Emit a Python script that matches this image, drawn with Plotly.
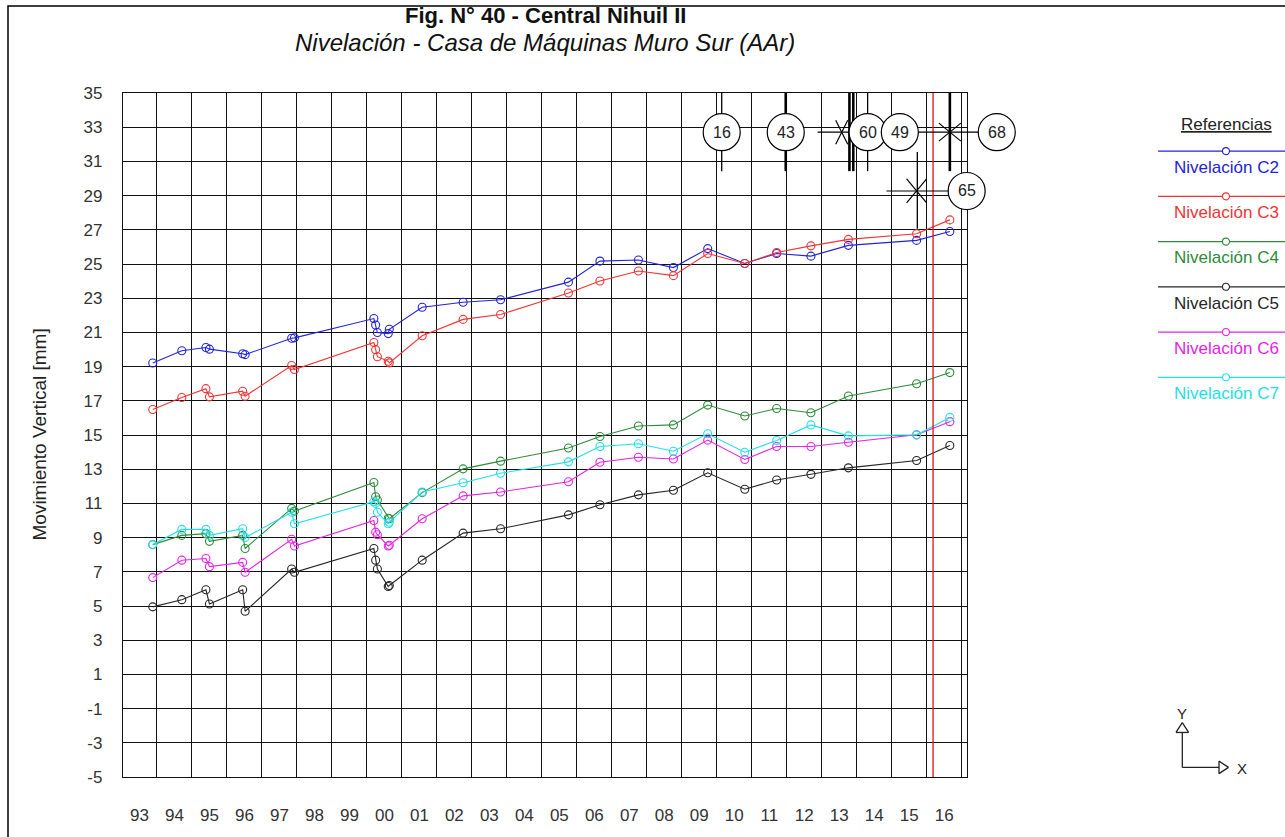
import plotly.graph_objects as go

# ---------------- data ----------------
dates = [1993.88, 1994.71, 1995.40, 1995.50, 1996.45, 1996.52, 1997.85, 1997.93,
         2000.20, 2000.25, 2000.30, 2000.61, 2000.64, 2001.58, 2002.75, 2003.82,
         2005.76, 2006.66, 2007.76, 2008.76, 2009.74, 2010.80, 2011.71, 2012.69,
         2013.76, 2015.71, 2016.66]

c2 = [19.21, 19.93, 20.12, 20.02, 19.75, 19.70, 20.66, 20.68, 21.81, 21.43, 20.99, 20.93, 21.18, 22.47,
      22.76, 22.91, 23.94, 25.17, 25.23, 24.79, 25.90, 25.03, 25.61, 25.46, 26.09, 26.38, 26.90]
c3 = [16.49, 17.19, 17.71, 17.23, 17.56, 17.27, 19.06, 18.83, 20.41, 19.99, 19.58, 19.31, 19.22, 20.80,
      21.76, 22.05, 23.30, 24.01, 24.59, 24.32, 25.61, 25.03, 25.67, 26.06, 26.44, 26.77, 27.58]
c4 = [8.59, 9.13, 9.23, 8.78, 9.13, 8.36, 10.71, 10.55, 12.22, 11.39, 11.20, 10.13, 10.10, 11.63,
      13.02, 13.47, 14.24, 14.91, 15.53, 15.59, 16.75, 16.11, 16.55, 16.30, 17.28, 18.00, 18.65]
c5 = [4.95, 5.37, 5.95, 5.12, 5.95, 4.69, 7.16, 6.97, 8.36, 7.68, 7.16, 6.14, 6.20, 7.68,
      9.26, 9.52, 10.33, 10.92, 11.50, 11.77, 12.79, 11.83, 12.37, 12.70, 13.08, 13.51, 14.39]
c6 = [6.66, 7.68, 7.78, 7.30, 7.55, 6.97, 8.90, 8.51, 10.00, 9.32, 9.17, 8.51, 8.55, 10.10,
      11.44, 11.67, 12.27, 13.41, 13.70, 13.60, 14.70, 13.57, 14.33, 14.33, 14.58, 15.01, 15.78]
c7 = [8.59, 9.48, 9.48, 9.13, 9.52, 9.00, 10.48, 9.81, 11.10, 11.00, 10.48, 9.81, 9.90, 11.67,
      12.21, 12.76, 13.43, 14.33, 14.49, 14.05, 15.07, 13.99, 14.68, 15.59, 14.95, 15.01, 16.03]

series_names = ["Nivelación C2", "Nivelación C3", "Nivelación C4",
                "Nivelación C5", "Nivelación C6", "Nivelación C7"]
series_values = [c2, c3, c4, c5, c6, c7]
series_colors = ["#2323d8", "#f03434", "#2e8b3a", "#262626", "#e424e4", "#22e0e8"]

year_labels = ["93", "94", "95", "96", "97", "98", "99", "00", "01", "02", "03", "04",
               "05", "06", "07", "08", "09", "10", "11", "12", "13", "14", "15", "16"]
year_starts = list(range(1993, 2017))
y_ticks = list(range(-5, 36, 2))
y_tick_labels = [str(v) for v in y_ticks]  # plain hyphen-minus, as in the original

# reference marks (event numbers) drawn at the top of the chart
ref_labels = ["16", "43", "60", "49", "68", "65"]
ref_t = [2010.14, 2011.97, 2014.31, 2015.23, 2018.00, 2017.14]
ref_v = [32.71, 32.71, 32.71, 32.71, 32.71, 29.27]
red_line_t = 2016.18

# ---------------- layout geometry ----------------
W, H = 1285, 837
L, R, T, B = 123, 318, 93, 53
X0, X1 = 1993.03, 2017.15
Y0, Y1 = -5, 35
PW, PH = W - L - R, H - T - B
FONT = "Liberation Sans, Arial, sans-serif"


def xp(t):
    return (t - X0) / (X1 - X0)


def yp(v):
    return (v - Y0) / (Y1 - Y0)


def pxx(px):
    return (px - L) / PW


def pxy(py):
    return (H - B - py) / PH


fig = go.Figure()

for name, vals, col in zip(series_names, series_values, series_colors):
    fig.add_trace(go.Scatter(
        x=dates, y=vals, mode="lines+markers", name=name,
        line=dict(color=col, width=1.1),
        marker=dict(symbol="circle-open", size=8, color=col, line=dict(width=1.1, color=col)),
        showlegend=False))

shapes = []
annotations = []

# red vertical line
shapes.append(dict(type="line", xref="x", yref="paper", x0=red_line_t, x1=red_line_t,
                   y0=0, y1=1, line=dict(color="#e01010", width=1.3), layer="above"))

# vertical lines of reference marks (t, v0, v1, width)
vlines = [(ref_t[0], 35, 30.43, 1.3), (ref_t[1], 35, 30.43, 2.6),
          (2013.79, 35, 30.43, 2.6), (2013.90, 35, 30.43, 2.6),
          (ref_t[2], 35, 30.43, 1.3), (2016.66, 35, 30.43, 2.6),
          (2015.73, 31.55, 27.06, 1.3)]
for t, v0, v1, w in vlines:
    shapes.append(dict(type="line", xref="paper", yref="paper", x0=xp(t), x1=xp(t),
                       y0=yp(v0), y1=yp(v1), line=dict(color="black", width=w), layer="above"))

# horizontal connector lines
hlines = [(2012.88, 2013.78, ref_v[0]), (ref_t[3], ref_t[4], ref_v[3]),
          (2014.85, ref_t[5], ref_v[5])]
for t0, t1, v in hlines:
    shapes.append(dict(type="line", xref="paper", yref="paper", x0=xp(t0), x1=xp(t1),
                       y0=yp(v), y1=yp(v), line=dict(color="black", width=1.2), layer="above"))

# X crosses (t, v, dx px, dy px)
crosses = [(2013.57, ref_v[0], 6, 12), (2016.66, ref_v[3], 11, 9), (2015.71, ref_v[5], 10, 12)]
for t, v, dx, dy in crosses:
    for s in (1, -1):
        shapes.append(dict(type="line", xref="paper", yref="paper",
                           xsizemode="pixel", ysizemode="pixel",
                           xanchor=xp(t), yanchor=yp(v), x0=-dx, x1=dx, y0=-dy * s, y1=dy * s,
                           line=dict(color="black", width=1.2), layer="above"))

# circles with numbers
for lab, t, v in zip(ref_labels, ref_t, ref_v):
    shapes.append(dict(type="circle", xref="paper", yref="paper",
                       xsizemode="pixel", ysizemode="pixel",
                       xanchor=xp(t), yanchor=yp(v), x0=-18.5, x1=18.5, y0=-18.5, y1=18.5,
                       fillcolor="white", line=dict(color="black", width=1.2), layer="above"))
    annotations.append(dict(text=lab, xref="paper", yref="paper", x=xp(t), y=yp(v),
                            showarrow=False, xanchor="center", yanchor="middle",
                            font=dict(family=FONT, size=16, color="#222")))

# ---------------- custom legend ----------------
annotations.append(dict(text="<u>Referencias</u>", xref="paper", yref="paper",
                        x=pxx(1226), y=pxy(125), showarrow=False, xanchor="center", yanchor="middle",
                        font=dict(family=FONT, size=17, color="#222")))
leg_line_y = [151.7, 197.4, 243.1, 288.8, 334.5, 380.2]
for name, col, ly in zip(series_names, series_colors, leg_line_y):
    shapes.append(dict(type="line", xref="paper", yref="paper", x0=pxx(1158), x1=pxx(1290),
                       y0=pxy(ly), y1=pxy(ly), line=dict(color=col, width=1.2)))
    shapes.append(dict(type="circle", xref="paper", yref="paper", xsizemode="pixel", ysizemode="pixel",
                       xanchor=pxx(1226), yanchor=pxy(ly), x0=-3.5, x1=3.5, y0=-3.5, y1=3.5,
                       fillcolor="white", line=dict(color=col, width=1.1)))
    annotations.append(dict(text=name, xref="paper", yref="paper", x=pxx(1226), y=pxy(ly + 16.5),
                            showarrow=False, xanchor="center", yanchor="middle",
                            font=dict(family=FONT, size=17, color=col)))

# ---------------- XY icon ----------------
def seg(xa, ya, xb, yb, w=1.3):
    shapes.append(dict(type="line", xref="paper", yref="paper", x0=pxx(xa), x1=pxx(xb),
                       y0=pxy(ya), y1=pxy(yb), line=dict(color="#222", width=w)))


seg(1182.3, 739, 1182.3, 774.3)
seg(1182.3, 774.3, 1219, 774.3)
# open arrow heads
seg(1182.3, 729, 1176, 739); seg(1182.3, 729, 1188.6, 739); seg(1176, 739, 1188.6, 739)
seg(1228.5, 774.3, 1219, 768); seg(1228.5, 774.3, 1219, 780.6); seg(1219, 768, 1219, 780.6)
annotations.append(dict(text="Y", xref="paper", yref="paper", x=pxx(1182), y=pxy(720),
                        showarrow=False, xanchor="center", yanchor="middle",
                        font=dict(family=FONT, size=15, color="#222")))
annotations.append(dict(text="X", xref="paper", yref="paper", x=pxx(1242), y=pxy(775),
                        showarrow=False, xanchor="center", yanchor="middle",
                        font=dict(family=FONT, size=15, color="#222")))

# ---------------- titles ----------------
annotations.append(dict(text="<b>Fig. N° 40 - Central Nihuil II</b>", xref="paper", yref="paper",
                        x=pxx(545), y=pxy(15), showarrow=False, xanchor="center", yanchor="middle",
                        font=dict(family=FONT, size=22, color="#111")))
annotations.append(dict(text="<i>Nivelación - Casa de Máquinas Muro Sur (AAr)</i>", xref="paper",
                        yref="paper", x=pxx(545), y=pxy(42), showarrow=False, xanchor="center",
                        yanchor="middle", font=dict(family=FONT, size=24, color="#111")))
annotations.append(dict(text="Movimiento Vertical [mm]", xref="paper", yref="paper",
                        x=pxx(40), y=pxy(438), showarrow=False, textangle=-90,
                        xanchor="center", yanchor="middle",
                        font=dict(family=FONT, size=19, color="#222")))

# outer frame (left & top edges visible)
shapes.append(dict(type="rect", xref="paper", yref="paper", x0=pxx(8), x1=pxx(1300),
                   y0=pxy(5), y1=pxy(850), line=dict(color="black", width=1.5)))

fig.update_layout(
    width=W, height=H, autosize=False,
    margin=dict(l=L, r=R, t=T, b=B, pad=0),
    paper_bgcolor="white", plot_bgcolor="white",
    shapes=shapes, annotations=annotations,
    font=dict(family=FONT, size=17, color="#222"),
    xaxis=dict(range=[X0, X1], tickmode="array",
               tickvals=[y + 0.5 for y in year_starts], ticktext=year_labels,
               ticks="outside", ticklen=22, tickcolor="rgba(0,0,0,0)",
               showgrid=False, zeroline=False,
               showline=True, mirror=True, linecolor="#111", linewidth=1.3,
               tickfont=dict(family=FONT, size=17, color="#333"),
               minor=dict(tickmode="array", tickvals=year_starts[1:] + [2017],
                          showgrid=True, gridcolor="#111", gridwidth=1.3, ticks="")),
    yaxis=dict(range=[Y0, Y1], tickmode="array", tickvals=y_ticks, ticktext=y_tick_labels,
               ticks="outside", ticklen=16, tickcolor="rgba(0,0,0,0)",
               showgrid=True, gridcolor="#111", gridwidth=1.3, zeroline=False,
               showline=True, mirror=True, linecolor="#111", linewidth=1.3,
               tickfont=dict(family=FONT, size=17, color="#333")),
)

fig.write_html("out.html")
